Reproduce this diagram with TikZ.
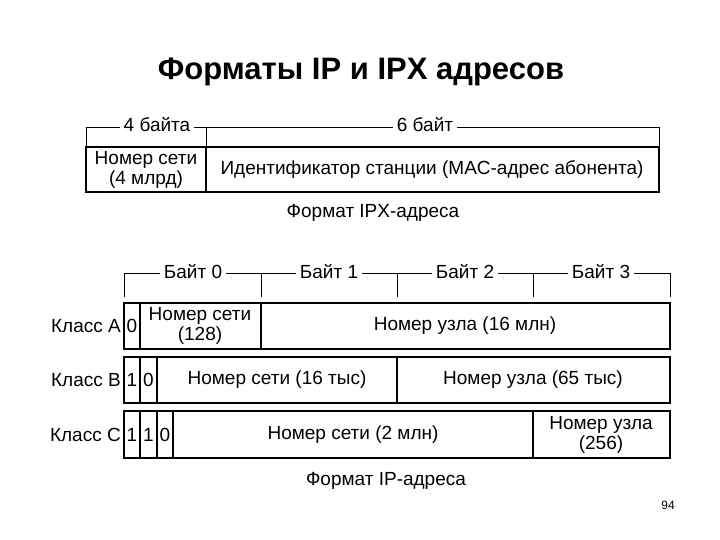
\documentclass[tikz,border=0pt]{standalone}
\usepackage{fontspec}
\setmainfont{Liberation Sans}
\begin{document}
\begin{tikzpicture}[x=1pt,y=-1pt,
  lbl/.style={font=\fontsize{19}{20}\selectfont, inner sep=4pt, fill=white},
  txt/.style={font=\fontsize{19}{20}\selectfont, align=center, inner sep=0pt},
  box/.style={draw, line width=1.2pt},
  br/.style={line width=0.6pt}]
\useasboundingbox (0,0) rectangle (720,540);
\node[font=\bfseries\fontsize{31}{34}\selectfont] (title) at (361,72) {Форматы IP и IPX адресов};
% IPX
\draw[br] (86,147) -- (86,127) -- (659,127) -- (659,147);
\draw[br] (206,127) -- (206,147);
\node[lbl] (b4) at (157,125) {4 байта};
\node[lbl] (b6) at (425,125) {6 байт};
\draw[box] (86,147) rectangle (659,192);
\draw[box] (206,147) -- (206,192);
\node[txt] (ns) at (146,169.5) {Номер сети\\(4 млрд)};
\node[txt] (id) at (432,169.5) {Идентификатор станции (MAC-адрес абонента)};
\node[txt] (cap1) at (373,213) {Формат IPX-адреса};
% IP
\draw[br] (124,297) -- (124,273) -- (670,273) -- (670,297);
\foreach \x in {261,397,533} \draw[br] (\x,273) -- (\x,297);
\node[lbl] (y0) at (193,272) {Байт 0};
\node[lbl] (y1) at (329,272) {Байт 1};
\node[lbl] (y2) at (465,272) {Байт 2};
\node[lbl] (y3) at (601,272) {Байт 3};
% A
\draw[box] (124,303) rectangle (670,349);
\draw[box] (140,303) -- (140,349) (261,303) -- (261,349);
\node[txt,anchor=east] (ca) at (121,326) {Класс A};
\node[txt] (a0) at (132,326) {0};
\node[txt] (an) at (200,326) {Номер сети\\(128)};
\node[txt] (au) at (465,326) {Номер узла (16 млн)};
% B
\draw[box] (124,357) rectangle (670,403);
\draw[box] (140,357) -- (140,403) (157,357) -- (157,403) (397,357) -- (397,403);
\node[txt,anchor=east] (cb) at (121,380) {Класс B};
\node[txt] (b1) at (132,380) {1};
\node[txt] (b0) at (148.5,380) {0};
\node[txt] (bn) at (277,380) {Номер сети (16 тыс)};
\node[txt] (bu) at (533,380) {Номер узла (65 тыс)};
% C
\draw[box] (124,411) rectangle (670,458);
\draw[box] (140,411) -- (140,458) (157,411) -- (157,458) (173,411) -- (173,458) (533,411) -- (533,458);
\node[txt,anchor=east] (cc) at (121,434.5) {Класс C};
\node[txt] (c1) at (132,434.5) {1};
\node[txt] (c2) at (148.5,434.5) {1};
\node[txt] (c0) at (165,434.5) {0};
\node[txt] (cn) at (353,434.5) {Номер сети (2 млн)};
\node[txt] (cu) at (601,434.5) {Номер узла\\(256)};
\node[txt] (cap2) at (386,481) {Формат IP-адреса};
\node[font=\fontsize{12}{13}\selectfont] (pg) at (668,505) {94};
\end{tikzpicture}
\end{document}
